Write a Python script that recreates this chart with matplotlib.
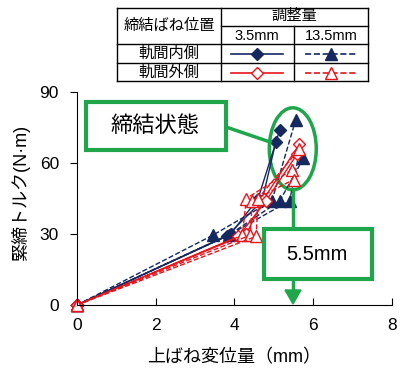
import matplotlib
matplotlib.use("Agg")
import matplotlib.pyplot as plt
from matplotlib.patches import Ellipse, Rectangle, Polygon
from matplotlib.lines import Line2D

plt.rcParams['font.family'] = ['Liberation Sans', 'Noto Sans CJK JP']

W, H = 402, 369
NAVY = "#15285f"
RED = "#e8141b"
GREEN = "#1fa64a"

# 3.5mm, 軌間内側 (navy, solid, diamonds)
inner_35_x = [[0, 3.9, 4.6, 5.15], [0, 3.8, 4.7, 5.05]]
inner_35_y = [[0, 30, 45, 74], [0, 29, 44, 69]]
# 13.5mm, 軌間内側 (navy, dashed, triangles)
inner_135_x = [[0, 3.45, 4.95, 5.55], [0, 3.85, 5.15, 5.75], [0, 3.9, 5.4, 5.65]]
inner_135_y = [[0, 29.5, 44, 78], [0, 29.5, 44, 62], [0, 30, 44, 65]]
# 3.5mm, 軌間外側 (red, solid, open diamonds)
outer_35_x = [[0, 4.3, 4.75, 5.65], [0, 4.1, 4.8, 5.6]]
outer_35_y = [[0, 30, 45, 68], [0, 29, 44, 64]]
# 13.5mm, 軌間外側 (red, dashed, open triangles)
outer_135_x = [[0, 4.2, 4.3, 5.45], [0, 4.4, 4.45, 5.5], [0, 4.55, 4.6, 5.65]]
outer_135_y = [[0, 29.5, 45, 57], [0, 29.5, 44, 53], [0, 29, 45, 66]]

col_labels = ["3.5mm", "13.5mm"]
row_labels = ["軌間内側", "軌間外側"]

fig = plt.figure(figsize=(W / 100, H / 100), dpi=100)


def fx(px):
    return px / W


def fy(py):
    return 1 - py / H


ax = fig.add_axes([fx(77), fy(305), fx(392) - fx(77), fy(92) - fy(305)])
ax.set_xlim(0, 8)
ax.set_ylim(0, 90)
ax.set_xticks([0, 2, 4, 6, 8])
ax.set_yticks([0, 30, 60, 90])
ax.tick_params(axis="x", direction="in", labelsize=12.5, length=5, pad=9)
ax.tick_params(axis="y", direction="out", labelsize=12.5, length=5, pad=8)
for s in ["top", "right"]:
    ax.spines[s].set_visible(False)
ax.set_xlabel("上ばね変位量（mm）", fontsize=13, va="center")
ax.set_ylabel("緊締トルク(N·m)", fontsize=13, va="center")
ax.xaxis.set_label_coords(0.498, -0.249)
ax.yaxis.set_label_coords(-0.178, 0.526)

for xs, ys in zip(inner_35_x, inner_35_y):
    ax.plot(xs, ys, "-", color=NAVY, lw=1, marker="D", ms=6, clip_on=False)
for xs, ys in zip(inner_135_x, inner_135_y):
    ax.plot(xs, ys, "--", color=NAVY, lw=1, marker="^", ms=8, clip_on=False)
for xs, ys in zip(outer_35_x, outer_35_y):
    ax.plot(xs, ys, "-", color=RED, lw=1, marker="D", ms=6, mfc="white", clip_on=False)
for xs, ys in zip(outer_135_x, outer_135_y):
    ax.plot(xs, ys, "--", color=RED, lw=1, marker="^", ms=8, mfc="white", clip_on=False)

# green annotations
ell = Ellipse((5.48, 66), 47 / 39.4, 82 / 2.367, fill=False, ec=GREEN, lw=2.5, clip_on=False)
ax.add_patch(ell)
fig.lines.append(Line2D([fx(226), fx(270)], [fy(127), fy(142)], color=GREEN, lw=2.5,
                        transform=fig.transFigure, zorder=2))
fig.lines.append(Line2D([fx(293), fx(293)], [fy(189), fy(292)], color=GREEN, lw=2.5,
                        transform=fig.transFigure, zorder=2))
box1 = Rectangle((fx(86), fy(150)), fx(226) - fx(86), fy(102) - fy(150),
                 transform=fig.transFigure, fill=True, fc="white", ec=GREEN, lw=3, zorder=3)
fig.patches.append(box1)
fig.text(fx(155), fy(126), "締結状態", fontsize=16, ha="center", va="center", zorder=4)
box2 = Rectangle((fx(264), fy(279)), fx(372) - fx(264), fy(229) - fy(279),
                 transform=fig.transFigure, fill=True, fc="white", ec=GREEN, lw=3, zorder=3)
fig.patches.append(box2)
fig.text(fx(317), fy(254), "5.5mm", fontsize=14.5, ha="center", va="center", zorder=4)
head = Polygon([[fx(285), fy(290)], [fx(301), fy(290)], [fx(293), fy(304)]],
               closed=True, transform=fig.transFigure, color=GREEN, zorder=3)
fig.patches.append(head)


# legend table
def hline(x0, x1, y, **kw):
    fig.lines.append(Line2D([fx(x0), fx(x1)], [fy(y), fy(y)], transform=fig.transFigure, **kw))


def vline(x, y0, y1, **kw):
    fig.lines.append(Line2D([fx(x), fx(x)], [fy(y0), fy(y1)], transform=fig.transFigure, **kw))


k = dict(color="black", lw=1)
hline(117, 368, 8, **k)
hline(117, 368, 81, **k)
hline(221, 368, 26, **k)
hline(117, 368, 44, **k)
hline(117, 368, 63, **k)
vline(117, 8, 81, **k)
vline(368, 8, 81, **k)
vline(221, 8, 81, **k)
vline(294, 26, 81, **k)

tf = 11
fig.text(fx(169), fy(26), "締結ばね位置", fontsize=tf, ha="center", va="center")
fig.text(fx(294), fy(16), "調整量", fontsize=tf, ha="center", va="center")
fig.text(fx(257), fy(36), col_labels[0], fontsize=10.5, ha="center", va="center")
fig.text(fx(331), fy(36), col_labels[1], fontsize=10.5, ha="center", va="center")
fig.text(fx(169), fy(54), row_labels[0], fontsize=tf, ha="center", va="center")
fig.text(fx(169), fy(73), row_labels[1], fontsize=tf, ha="center", va="center")

samples = [
    (257, 54, "-", NAVY, "D", NAVY, 6),
    (331, 54, "--", NAVY, "^", NAVY, 8),
    (257, 73, "-", RED, "D", "white", 6),
    (331, 73, "--", RED, "^", "white", 8),
]
for cx, cy, ls, c, m, mfc, ms in samples:
    fig.lines.append(Line2D([fx(cx - 26), fx(cx + 26)], [fy(cy), fy(cy)], ls=ls, color=c, lw=1.2,
                            transform=fig.transFigure))
    fig.lines.append(Line2D([fx(cx)], [fy(cy)], marker=m, color=c, mfc=mfc, ms=ms, ls="none",
                            transform=fig.transFigure))

fig.savefig("out.png", dpi=100)
